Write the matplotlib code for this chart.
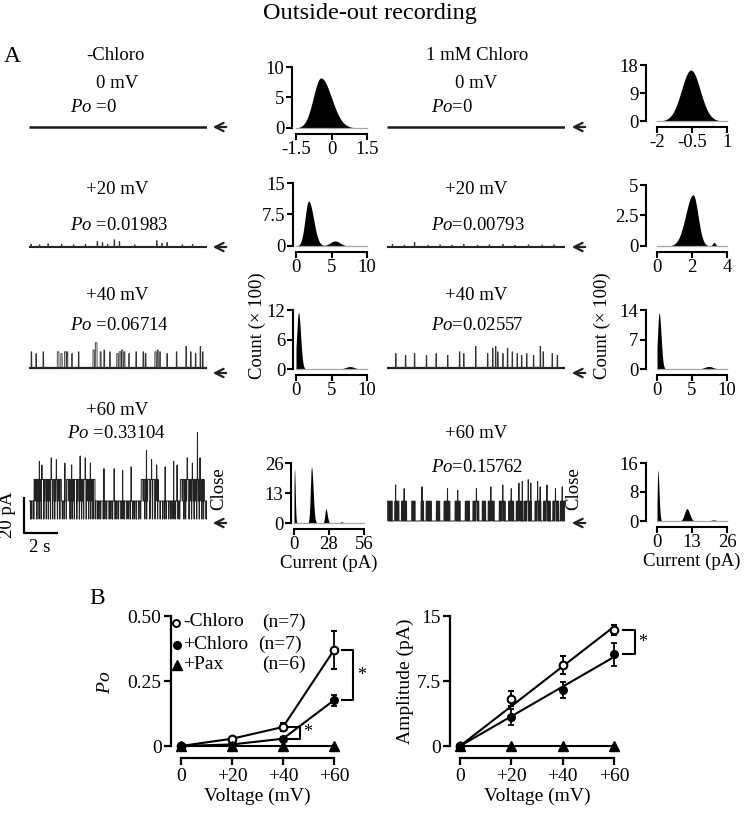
import numpy as np
import matplotlib.pyplot as plt
from matplotlib.lines import Line2D
from matplotlib.patches import FancyArrowPatch

plt.rcParams['font.family'] = ['Liberation Serif', 'DejaVu Serif']
plt.rcParams['mathtext.fontset'] = 'custom'
plt.rcParams['mathtext.rm'] = 'Liberation Serif'
plt.rcParams['mathtext.it'] = 'Liberation Serif:italic'

# ---------------- data ----------------
# single channel events (time s, amplitude pA, duration s)
l20_t = [0.1, 0.6, 1.1, 1.9, 2.6, 3.3, 4.0, 4.3, 4.6, 5.0, 5.3, 6.2, 7.5, 7.8, 8.1, 9.0, 9.6]
l20_a = [1.5, 1.2, 1.8, 1.5, 1.2, 1.5, 3.0, 2.5, 1.5, 4.0, 3.0, 1.2, 3.5, 2.0, 2.5, 1.2, 1.5]
r20_t = [0.3, 1.0, 1.6, 2.4, 3.1, 3.8, 4.5, 5.3, 6.0, 6.8, 7.5, 8.3, 9.1, 9.8]
r20_a = [1.5, 1.0, 2.5, 1.0, 1.2, 1.0, 1.5, 1.0, 1.2, 1.5, 1.0, 1.2, 1.0, 1.2]

l40_t = [0.12, 0.4, 0.82, 1.66, 1.87, 2.08, 2.22, 2.5, 2.9, 3.76, 3.9, 4.18, 4.4, 4.74, 5.16, 5.3,
         5.44, 5.58, 5.86, 6.28, 6.7, 6.84, 7.4, 7.54, 7.68, 8.1, 8.66, 9.22, 9.5, 9.78, 10.06, 10.2]
l40_a = [9, 8, 9, 9, 8, 9, 9, 8, 9, 10, 14, 9, 10, 9, 8, 9,
         10, 9, 8, 9, 9, 8, 9, 10, 9, 8, 9, 12, 9, 8, 12, 9]
l40_d = [0.04, 0.03, 0.04, 0.1, 0.08, 0.1, 0.06, 0.05, 0.04, 0.08, 0.1, 0.06, 0.05, 0.04, 0.08, 0.1,
         0.08, 0.06, 0.04, 0.04, 0.05, 0.04, 0.08, 0.06, 0.05, 0.04, 0.04, 0.05, 0.04, 0.04, 0.04, 0.04]
r40_t = [0.5, 1.07, 1.6, 2.3, 2.87, 3.55, 4.25, 4.5, 5.2, 5.9, 6.2, 6.37, 6.5, 6.8, 7.07, 7.35,
         7.64, 7.9, 8.2, 8.6, 9.0, 9.17, 9.7, 10.0]
r40_a = [8, 7, 8, 7, 8, 7, 9, 8, 12, 8, 11, 12, 9, 8, 11, 9,
         8, 7, 8, 7, 12, 9, 8, 7]

# +60 mV, control: sustained levels, closures, brief spikes
l60_seg_start = [0.0, 0.3, 1.9, 2.2, 3.9, 6.6, 7.6, 8.9, 10.3]
l60_seg_end = [0.3, 1.9, 2.2, 3.9, 6.6, 7.6, 8.9, 10.3, 10.47]
l60_seg_level = [10, 22, 10, 22, 10, 22, 10, 22, 10]
l60_dip_t = [0.35, 0.5, 0.62, 0.9, 1.05, 1.18, 1.4, 1.55, 1.7, 2.3, 2.45, 2.58, 2.85, 3.0,
             3.12, 3.45, 3.58, 3.7, 6.7, 6.82, 6.95, 7.12, 7.25, 7.45, 9.0, 9.12, 9.25, 9.4,
             9.5, 9.65, 9.8, 9.95, 10.1, 10.2]
l60_close_t = [0.08, 0.15, 0.27, 0.45, 0.58, 0.7, 0.86, 1.0, 1.12, 1.25, 1.38, 1.5, 1.66, 1.8,
               1.95, 2.05, 2.18, 2.4, 2.52, 2.65, 2.8, 2.95, 3.08, 3.2, 3.35, 3.5, 3.62, 3.75,
               3.88, 4.0, 4.1, 4.2, 4.35, 4.45, 4.55, 4.7, 4.8, 4.9, 5.05, 5.15, 5.25, 5.4,
               5.5, 5.6, 5.75, 5.85, 5.95, 6.1, 6.2, 6.3, 6.45, 6.55, 6.8, 6.9, 7.1, 7.25,
               7.4, 7.55, 7.7, 7.85, 7.95, 8.05, 8.2, 8.3, 8.4, 8.5, 8.6, 8.75, 8.85, 9.1,
               9.2, 9.4, 9.55, 9.7, 9.85, 10.0, 10.15, 10.25, 10.4]
l60_spk_t = [0.6, 0.75, 1.3, 1.6, 2.1, 2.5, 3.0, 3.3, 3.6, 4.4, 5.0, 5.5, 6.0, 6.9, 7.2, 7.5,
             8.0, 8.5, 8.7, 9.3, 9.6, 9.9, 10.05]
l60_spk_a = [32, 30, 34, 33, 31, 30, 35, 34, 31, 28, 28, 27, 29, 38, 33, 30,
             29, 32, 30, 34, 31, 48, 34]

# +60 mV, chloro
r60_open_start = [0.0, 0.45, 0.85, 1.45, 2.0, 2.3, 2.9, 3.35, 4.0, 4.6, 5.05, 5.6, 5.95, 6.6,
                  7.15, 7.6, 8.05, 8.7, 9.2, 9.75, 10.2]
r60_open_end = [0.3, 0.7, 1.15, 1.65, 2.15, 2.6, 3.1, 3.7, 4.3, 4.85, 5.4, 5.8, 6.3, 6.95,
                7.45, 7.9, 8.5, 9.05, 9.6, 10.1, 10.47]
r60_close_t = [0.05, 0.1, 0.16, 0.2, 0.25, 0.5, 0.55, 0.62, 0.9, 0.95, 1.0, 1.05, 1.1, 1.5,
               1.55, 1.6, 2.05, 2.1, 2.35, 2.4, 2.45, 2.5, 2.55, 2.95, 3.0, 3.05, 3.4, 3.45,
               3.5, 3.55, 3.6, 3.65, 4.05, 4.1, 4.15, 4.2, 4.25, 4.65, 4.7, 4.75, 4.8, 5.1,
               5.15, 5.2, 5.3, 5.35, 5.65, 5.7, 5.75, 6.0, 6.05, 6.1, 6.2, 6.25, 6.65, 6.7,
               6.75, 6.85, 6.9, 7.2, 7.25, 7.3, 7.35, 7.4, 7.65, 7.7, 7.8, 7.85, 8.1, 8.15,
               8.2, 8.3, 8.35, 8.4, 8.45, 8.75, 8.8, 8.9, 8.95, 9.0, 9.25, 9.3, 9.4, 9.45,
               9.5, 9.55, 9.8, 9.85, 9.95, 10.0, 10.05, 10.25, 10.3, 10.35, 10.4]
r60_spk_t = [0.5, 1.0, 2.05, 3.55, 4.15, 5.25, 6.1, 6.8, 7.3, 7.75, 7.95, 8.3, 8.45, 8.85, 9.0,
             9.4, 9.9, 10.3]
r60_spk_a = [20, 18, 19, 18, 17, 18, 19, 20, 18, 21, 22, 23, 21, 22, 19, 20, 18, 19]

# amplitude histograms: peak centre, height (x100 counts), left / right width
h1_c, h1_h, h1_wl, h1_wr = [-0.45], [8.2], [0.32], [0.45]
h2_c, h2_h, h2_wl, h2_wr = [-0.55], [16.4], [0.4], [0.4]
h3_c, h3_h, h3_wl, h3_wr = [1.77, 5.5], [10.7, 1.2], [0.5, 0.7], [0.7, 0.7]
h4_c, h4_h, h4_wl, h4_wr = [2.06, 3.26], [4.2, 0.3], [0.42, 0.08], [0.28, 0.08]
h5_c, h5_h, h5_wl, h5_wr = [0.35, 7.6], [11.5, 0.5], [0.25, 0.6], [0.3, 0.6]
h6_c, h6_h, h6_wl, h6_wr = [0.3, 7.4], [13.3, 0.6], [0.22, 0.6], [0.28, 0.6]
h7_c, h7_h, h7_wl, h7_wr = [0.4, 14.0, 25.5, 38.0], [23.5, 24.3, 6.2, 0.5], [0.4, 0.9, 0.8, 1.2], [0.6, 1.3, 1.1, 1.2]
h8_c, h8_h, h8_wl, h8_wr = [0.3, 11.1, 21.0], [14.0, 3.4, 0.3], [0.2, 0.9, 1.0], [0.45, 1.0, 1.0]

# panel B
volt = [0, 20, 40, 60]
volt_labels = ['0', '+20', '+40', '+60']
po_ctrl = [0.0, 0.028, 0.073, 0.369]
po_ctrl_err = [0.0, 0.005, 0.017, 0.074]
po_chl = [0.0, 0.006, 0.028, 0.176]
po_chl_err = [0.0, 0.002, 0.008, 0.021]
po_pax = [0.0, 0.0, 0.0, 0.0]
amp_ctrl = [0.0, 5.48, 9.33, 13.38]
amp_ctrl_err = [0.0, 0.9, 1.0, 0.6]
amp_chl = [0.0, 3.35, 6.44, 10.57]
amp_chl_err = [0.0, 0.95, 0.9, 1.3]
amp_pax = [0.0, 0.0, 0.0, 0.0]

# ---------------- figure ----------------
W, H = 747, 813
fig = plt.figure(figsize=(W / 100, H / 100), dpi=100)


def box(x0, y0, x1, y1):
    return [x0 / W, 1 - y1 / H, (x1 - x0) / W, (y1 - y0) / H]


def ftext(x, y, s, size=13.5, ha='center', rot=0, **kw):
    fig.text(x / W, 1 - y / H, s, fontsize=size, ha=ha, va='center', rotation=rot, **kw)


def arrow(x, y):
    fig.patches.append(FancyArrowPatch(((x + 19) / W, 1 - y / H), (x / W, 1 - y / H),
                                       transform=fig.transFigure, arrowstyle='->',
                                       mutation_scale=15, lw=1.6, color='#222222'))


T_LEN = 10.47
PXS, PXA = 17.0, 1.8
tt = np.linspace(0, T_LEN, 8000)


def trace_ax(x0, base_y, lo=-8, hi=30):
    ax = fig.add_axes(box(x0, base_y - hi * PXA, x0 + T_LEN * PXS, base_y - lo * PXA))
    ax.set_xlim(0, T_LEN)
    ax.set_ylim(lo, hi)
    ax.axis('off')
    return ax


def events(y, ts, amps, durs=None):
    for i, t in enumerate(ts):
        d = 0.04 if durs is None else durs[i]
        y[(tt >= t) & (tt < t + d)] = amps[i]
    return y


def simple_trace(x0, base_y, ts=None, amps=None, durs=None, noise_lw=1.8):
    ax = trace_ax(x0, base_y)
    ax.plot([0, T_LEN], [0, 0], color='#1a1a1a', lw=noise_lw, solid_capstyle='butt')
    if ts is not None:
        y = events(np.zeros_like(tt), ts, amps, durs)
        ax.plot(tt, y, color='#333333', lw=0.6)
    return ax


def bell(x, c, h, wl, wr):
    w = np.where(x < c, wl, wr)
    return h * np.exp(-0.5 * ((x - c) / w) ** 2)


def hist_ax(x0, x1, yt, y0, xlim, ylim, xticks, xtl, yticks, ytl, c, h, wl, wr,
            left_off=3, bot_off=4, xlabel=None):
    ax = fig.add_axes(box(x0, yt, x1, y0))
    xs = np.linspace(xlim[0], xlim[1], 800)
    ys = np.zeros_like(xs)
    for i in range(len(c)):
        ys += bell(xs, c[i], h[i], wl[i], wr[i])
    ax.plot(xlim, [0, 0], color='0.65', lw=0.9, clip_on=False)
    ax.fill_between(xs, 0, ys, color='black', lw=0)
    ax.set_xlim(*xlim)
    ax.set_ylim(*ylim)
    for s in ['top', 'right']:
        ax.spines[s].set_visible(False)
    ax.spines['left'].set_position(('outward', left_off))
    ax.spines['bottom'].set_position(('outward', bot_off))
    for s in ['left', 'bottom']:
        ax.spines[s].set_linewidth(1.5)
    ax.set_xticks(xticks, xtl)
    ax.set_yticks(yticks, ytl)
    ax.tick_params(direction='out', length=4, width=1.5, labelsize=13.5, pad=1.5)
    ax.patch.set_alpha(0)
    if xlabel:
        ax.set_xlabel(xlabel, fontsize=13.5, labelpad=1)
    return ax


# title and panel letters
ftext(370, 14, 'Outside-out recording', size=17.5)
ftext(12, 56, 'A', size=17)
ftext(97, 598, 'B', size=17)

# ----- row 1 : 0 mV
ftext(115, 55, '-Chloro')
ftext(477, 55, '1 mM Chloro')
ftext(117, 83, '0 mV')
ftext(476, 83, '0 mV')
ftext(70, 108, r'$Po$ =0', ha='left')
ftext(431, 108, r'$Po$=0', ha='left')
simple_trace(29, 127)
simple_trace(387, 127)
arrow(210, 127)
arrow(569, 127)
hist_ax(296, 367, 67, 128, (-1.5, 1.5), (0, 10), [-1.5, 0, 1.5], ['-1.5', '0', '1.5'],
        [0, 5, 10], ['0', '5', '10'], h1_c, h1_h, h1_wl, h1_wr, left_off=3, bot_off=4)
hist_ax(657, 727, 65, 121, (-2, 1), (0, 18), [-2, -0.5, 1], ['-2', '-0.5', '1'],
        [0, 9, 18], ['0', '9', '18'], h2_c, h2_h, h2_wl, h2_wr, left_off=8, bot_off=4)

# ----- row 2 : +20 mV
ftext(117, 190, '+20 mV')
ftext(476, 190, '+20 mV')
ftext(70, 225, r'$Po$ =0.01983', ha='left')
ftext(431, 225, r'$Po$=0.00793', ha='left')
simple_trace(29, 247, l20_t, l20_a, noise_lw=1.5)
simple_trace(387, 247, r20_t, r20_a, noise_lw=1.5)
arrow(210, 247)
arrow(569, 247)
hist_ax(296, 367, 183, 246, (0, 10), (0, 15), [0, 5, 10], ['0', '5', '10'],
        [0, 7.5, 15], ['0', '7.5', '15'], h3_c, h3_h, h3_wl, h3_wr, left_off=2, bot_off=4)
hist_ax(657, 727, 185, 246, (0, 4), (0, 5), [0, 2, 4], ['0', '2', '4'],
        [0, 2.5, 5], ['0', '2.5', '5'], h4_c, h4_h, h4_wl, h4_wr, left_off=8, bot_off=4)

# ----- row 3 : +40 mV
ftext(117, 295, '+40 mV')
ftext(476, 295, '+40 mV')
ftext(70, 325, r'$Po$ =0.06714', ha='left')
ftext(431, 325, r'$Po$=0.02557', ha='left')
simple_trace(29, 368, l40_t, l40_a, l40_d, noise_lw=1.6)
simple_trace(387, 368, r40_t, r40_a, noise_lw=1.6)
arrow(210, 373)
arrow(569, 373)
hist_ax(296, 367, 310, 369, (0, 10), (0, 12), [0, 5, 10], ['0', '5', '10'],
        [0, 6, 12], ['0', '6', '12'], h5_c, h5_h, h5_wl, h5_wr, left_off=2, bot_off=4)
hist_ax(657, 727, 310, 369, (0, 10), (0, 14), [0, 5, 10], ['0', '5', '10'],
        [0, 7, 14], ['0', '7', '14'], h6_c, h6_h, h6_wl, h6_wr, left_off=8, bot_off=4)
ftext(257, 326, 'Count (\u00d7 100)', rot=90)
ftext(602, 326, 'Count (\u00d7 100)', rot=90)

# ----- row 4 : +60 mV
ftext(117, 410, '+60 mV')
ftext(67, 433, r'$Po$ =0.33104', ha='left')
ftext(476, 433, '+60 mV')
ftext(431, 467, r'$Po$=0.15762', ha='left')

axl = trace_ax(29, 519, lo=-10, hi=52)
y = np.zeros_like(tt)
for i in range(len(l60_seg_start)):
    y[(tt >= l60_seg_start[i]) & (tt < l60_seg_end[i])] = l60_seg_level[i]
y = events(y, l60_dip_t, [10] * len(l60_dip_t), [0.03] * len(l60_dip_t))
y = events(y, l60_close_t, [0] * len(l60_close_t), [0.025] * len(l60_close_t))
y = events(y, l60_spk_t, l60_spk_a, [0.015] * len(l60_spk_t))
axl.plot(tt, y, color='#222222', lw=0.7)
# scale bar 2 s / 20 pA
axl.plot([-0.3, -0.3, 1.7], [12, -8, -8], color='black', lw=1.6,
         clip_on=False, solid_capstyle='butt')
ftext(8, 515, '20 pA', rot=90)
ftext(40, 548, '2 s')

axr = trace_ax(387, 521, lo=-10, hi=30)
y = np.zeros_like(tt)
for i in range(len(r60_open_start)):
    y[(tt >= r60_open_start[i]) & (tt < r60_open_end[i])] = 11
y = events(y, r60_close_t, [0] * len(r60_close_t), [0.02] * len(r60_close_t))
y = events(y, r60_spk_t, r60_spk_a, [0.015] * len(r60_spk_t))
axr.plot(tt, y, color='#222222', lw=0.7)

arrow(210, 523)
arrow(569, 523)
ftext(219, 489, 'Close', rot=90)
ftext(574, 489, 'Close', rot=90)

hist_ax(294, 364, 463, 523, (0, 56), (0, 26), [0, 28, 56], ['0', '28', '56'],
        [0, 13, 26], ['0', '13', '26'], h7_c, h7_h, h7_wl, h7_wr, left_off=2, bot_off=4,
        xlabel='Current (pA)')
hist_ax(657, 727, 463, 521, (0, 26), (0, 16), [0, 13, 26], ['0', '13', '26'],
        [0, 8, 16], ['0', '8', '16'], h8_c, h8_h, h8_wl, h8_wr, left_off=8, bot_off=4,
        xlabel='Current (pA)')


# ---------------- panel B ----------------
def b_axes(x0, x1):
    ax = fig.add_axes(box(x0, 616, x1, 746))
    for s in ['top', 'right']:
        ax.spines[s].set_visible(False)
    ax.spines['left'].set_position(('outward', 7))
    ax.spines['bottom'].set_position(('outward', 8.5))
    for s in ['left', 'bottom']:
        ax.spines[s].set_linewidth(1.6)
    ax.tick_params(direction='out', length=5, width=1.6, labelsize=14, pad=2)
    ax.set_xlim(0, 60)
    ax.set_xticks(volt, volt_labels)
    ax.set_xlabel('Voltage (mV)', fontsize=14, labelpad=2)
    ax.patch.set_alpha(0)
    return ax


kw = dict(color='black', lw=1.5, capsize=2.5, elinewidth=1.3, capthick=1.3, clip_on=False)

axb = b_axes(181, 334)
axb.set_ylim(0, 0.5)
axb.set_yticks([0, 0.25, 0.5], ['0', '0.25', '0.50'])
axb.plot(volt, po_pax, '-^', color='black', ms=7.5, lw=1.5, clip_on=False, zorder=3)
axb.errorbar(volt, po_chl, yerr=po_chl_err, fmt='-o', mfc='black', mec='black', ms=5.5, **kw)
axb.errorbar(volt, po_ctrl, yerr=po_ctrl_err, fmt='-o', mfc='white', mec='black', ms=5.5,
             mew=1.5, **kw)
axb.plot([63, 67.5, 67.5, 63], [po_ctrl[3], po_ctrl[3], po_chl[3], po_chl[3]], color='black',
         lw=1.5, clip_on=False)
axb.text(69, (po_ctrl[3] + po_chl[3]) / 2, '*', fontsize=13, va='center')
axb.plot([42, 46.5, 46.5, 42], [po_ctrl[2], po_ctrl[2], po_chl[2], po_chl[2]], color='black',
         lw=1.5, clip_on=False)
axb.text(48, (po_ctrl[2] + po_chl[2]) / 2, '*', fontsize=13, va='center')
ftext(105, 682, r'$Po$', size=14, rot=90)

# legend
fig.add_artist(Line2D([176 / W], [1 - 623 / H], marker='o', mfc='white', mec='black', mew=1.4,
                      ms=5, transform=fig.transFigure))
fig.add_artist(Line2D([177 / W], [1 - 645 / H], marker='o', mfc='black', mec='black',
                      ms=5.5, transform=fig.transFigure))
fig.add_artist(Line2D([177 / W], [1 - 665 / H], marker='^', color='black',
                      ms=7.5, transform=fig.transFigure))
ftext(183, 622, '-Chloro', size=14, ha='left')
ftext(183, 644, '+Chloro', size=14, ha='left')
ftext(183, 664, '+Pax', size=14, ha='left')
ftext(262, 622, '(n=7)', size=14, ha='left')
ftext(258, 644, '(n=7)', size=14, ha='left')
ftext(262, 664, '(n=6)', size=14, ha='left')

axa = b_axes(460, 614)
axa.set_ylim(0, 15)
axa.set_yticks([0, 7.5, 15], ['0', '7.5', '15'])
vx = np.array(volt, dtype=float)
for vals in (amp_ctrl, amp_chl):
    slope = np.dot(vx, vals) / np.dot(vx, vx)
    axa.plot([0, 60], [0, slope * 60], color='black', lw=1.5, clip_on=False)
axa.plot(volt, amp_pax, '-^', color='black', ms=7.5, lw=1.5, clip_on=False, zorder=3)
kw2 = dict(kw)
kw2['lw'] = 0
axa.errorbar(volt, amp_chl, yerr=amp_chl_err, fmt='o', mfc='black', mec='black', ms=5.5, **kw2)
axa.errorbar(volt, amp_ctrl, yerr=amp_ctrl_err, fmt='o', mfc='white', mec='black', ms=5.5,
             mew=1.5, **kw2)
axa.plot([63.5, 68, 68, 63.5], [amp_ctrl[3], amp_ctrl[3], amp_chl[3], amp_chl[3]],
         color='black', lw=1.5, clip_on=False)
axa.text(69.5, (amp_ctrl[3] + amp_chl[3]) / 2, '*', fontsize=13, va='center')
ftext(405, 681, 'Amplitude (pA)', size=14, rot=90)

fig.savefig('out.png', dpi=100)
